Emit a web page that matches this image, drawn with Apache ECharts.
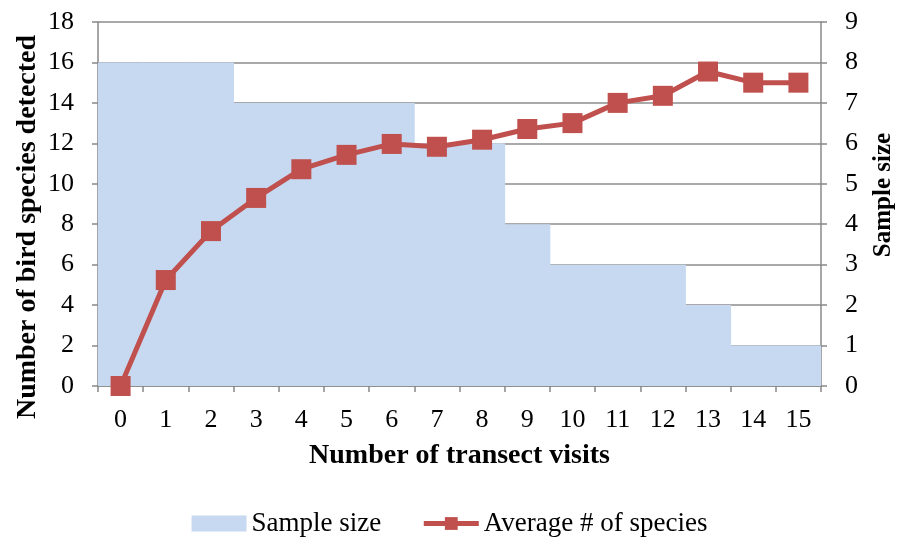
<!DOCTYPE html>
<html><head><meta charset="utf-8">
<script src="https://cdn.jsdelivr.net/npm/echarts@6/dist/echarts.min.js"></script>
<style>html,body{margin:0;padding:0;background:#fff}#c{width:899px;height:545px}</style>
</head><body><div id="c"></div>
<script>
var categories = ['0','1','2','3','4','5','6','7','8','9','10','11','12','13','14','15'];
var sampleSize = [8,8,8,7,7,7,7,6,6,4,3,3,3,2,1,1];
var avgSpecies = [0,5.24,7.66,9.3,10.72,11.43,11.97,11.83,12.18,12.71,13.0,14.0,14.35,15.55,15.0,15.0];
var FONT = 'Liberation Serif';
var chart = echarts.init(document.getElementById('c'), null, {renderer:'canvas'});
chart.setOption({
  animation:false,
  textStyle:{fontFamily:FONT},
  grid:{left:98,right:78,top:22,bottom:159,containLabel:false,outerBoundsMode:'none'},
  legend:{bottom:3,left:'center',itemGap:40,itemWidth:55,itemHeight:16,
    textStyle:{fontFamily:FONT,fontSize:27,color:'#000'},
    data:[{name:'Sample size',icon:'rect'},
          {name:'Average # of species',lineStyle:{width:5}}]},
  xAxis:{type:'category',data:categories,boundaryGap:true,
    name:'Number of transect visits',nameLocation:'middle',nameGap:56,nameMoveOverlap:false,
    nameTextStyle:{fontFamily:FONT,fontWeight:'bold',fontSize:28,color:'#000'},
    axisLine:{lineStyle:{color:'#888',width:1.5}},
    axisTick:{show:true,length:6,alignWithLabel:false,lineStyle:{color:'#888',width:1.5}},
    axisLabel:{fontFamily:FONT,fontSize:26,color:'#000',margin:21}},
  yAxis:[{type:'value',min:0,max:18,interval:2,position:'left',
    name:'Number of bird species detected',nameLocation:'middle',nameGap:56,nameRotate:90,nameMoveOverlap:false,
    nameTextStyle:{fontFamily:FONT,fontWeight:'bold',fontSize:28,color:'#000',padding:[0,46,0,0]},
    axisLine:{show:true,lineStyle:{color:'#888',width:1.5}},
    axisTick:{show:true,length:6,lineStyle:{color:'#888',width:1.5}},
    axisLabel:{fontFamily:FONT,fontSize:26,color:'#000',margin:24},
    splitLine:{show:true,lineStyle:{color:'#8c8c8c',width:1.5}}},
   {type:'value',min:0,max:9,interval:1,position:'right',
    name:'Sample size',nameLocation:'middle',nameGap:50,nameRotate:90,nameMoveOverlap:false,
    nameTextStyle:{fontFamily:FONT,fontWeight:'bold',fontSize:25,color:'#000',padding:[0,0,0,18]},
    axisLine:{show:true,lineStyle:{color:'#888',width:1.5}},
    axisTick:{show:true,length:6,lineStyle:{color:'#888',width:1.5}},
    axisLabel:{fontFamily:FONT,fontSize:26,color:'#000',margin:24},
    splitLine:{show:false}}],
  series:[
    {name:'Sample size',type:'bar',yAxisIndex:1,data:sampleSize,barWidth:'102%',
     itemStyle:{color:'#C6D9F1'},z:1},
    {name:'Average # of species',type:'line',yAxisIndex:0,data:avgSpecies,
     symbol:'rect',symbolSize:20,showSymbol:true,
     lineStyle:{color:'#C0504D',width:5},itemStyle:{color:'#C0504D'},z:3}
  ]
});
</script></body></html>
